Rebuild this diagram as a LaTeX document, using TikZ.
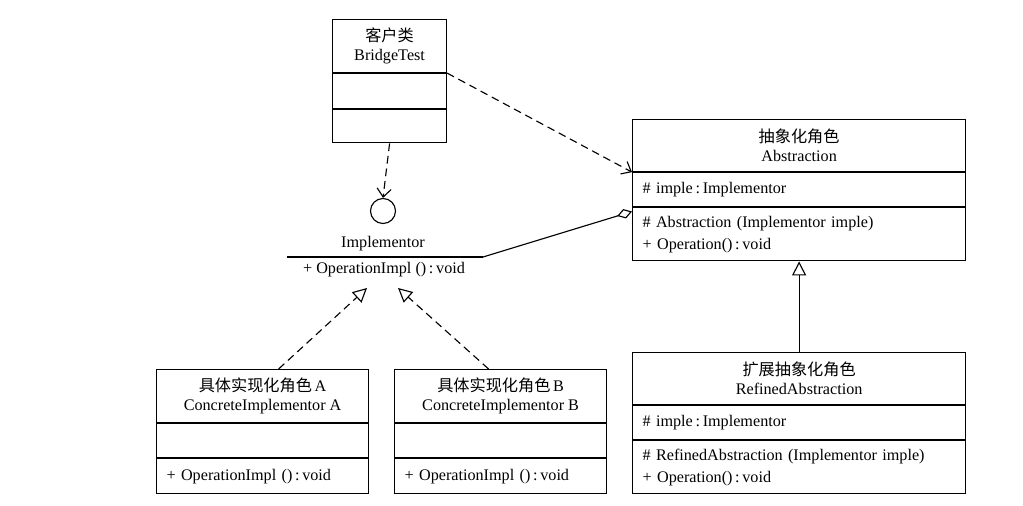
\documentclass[tikz,border=0pt]{standalone}
\usepackage{fontspec}
\setmainfont{Liberation Serif}
\newfontfamily\cjk{Noto Sans CJK SC}
\usetikzlibrary{arrows.meta,positioning}
\tikzset{
  box/.style={draw, line width=0.8pt, inner sep=0pt, font=\fontsize{11.5}{13.5}\selectfont},
  head/.style={box, align=center},
  part/.style={box, align=left, inner xsep=0.25cm},
  dep/.style={line width=0.8pt, dash pattern=on 5.5pt off 3.5pt, -{Straight Barb[length=6pt,width=10pt]}},
  real/.style={line width=0.8pt, dash pattern=on 5.5pt off 3.5pt, -{Triangle[open,length=10pt,width=10pt]}},
  gen/.style={line width=0.8pt, -{Triangle[open,length=10pt,width=10pt]}},
  agg/.style={line width=0.8pt, {Diamond[open,length=11pt,width=7pt]}-}
}
\begin{document}
\begin{tikzpicture}[x=0.025cm,y=-0.025cm]
  \useasboundingbox (0,0) rectangle (1023,505);
  \node[head, anchor=north west, minimum width=2.85cm, minimum height=1.325cm] (btHead) at (332,19) {{\cjk 客户类}\\BridgeTest};
  \node[part, text width=2.35cm, minimum height=0.875cm, below=0pt of btHead] (btAttr) {};
  \node[part, text width=2.35cm, minimum height=0.825cm, below=0pt of btAttr] (btMeth) {};

  \node[box, draw, circle, minimum size=0.625cm] (iface) at (383,211) {};
  \node[box, draw=none] (ifName) at (383,244) {Implementor};
  \coordinate (ifL) at (287,257);
  \coordinate (ifR) at (483,257);
  \draw[line width=0.8pt] (ifL) -- (ifR);
  \node[box, draw=none] (ifMeth) at (384,270) {+ OperationImpl ()\,:\,void};
  \coordinate (tipA) at (367,288);
  \coordinate (tipB) at (398,288);

  \node[head, anchor=north west, minimum width=8.325cm, minimum height=1.3cm] (abHead) at (632,119) {{\cjk 抽象化角色}\\Abstraction};
  \node[part, text width=7.825cm, minimum height=0.85cm, below=0pt of abHead] (abAttr) {\# imple\,:\,Implementor};
  \node[part, text width=7.825cm, minimum height=1.325cm, below=0pt of abAttr] (abMeth) {\# Abstraction (Implementor imple)\\[2pt]+ Operation()\,:\,void};

  \node[head, anchor=north west, minimum width=8.325cm, minimum height=1.3cm] (raHead) at (632,352) {{\cjk 扩展抽象化角色}\\RefinedAbstraction};
  \node[part, text width=7.825cm, minimum height=0.85cm, below=0pt of raHead] (raAttr) {\# imple\,:\,Implementor};
  \node[part, text width=7.825cm, minimum height=1.325cm, below=0pt of raAttr] (raMeth) {\# RefinedAbstraction (Implementor imple)\\[2pt]+ Operation()\,:\,void};

  \node[head, anchor=north west, minimum width=5.3cm, minimum height=1.325cm] (caHead) at (156,369) {{\cjk 具体实现化角色}\,A\\ConcreteImplementor A};
  \node[part, text width=4.8cm, minimum height=0.85cm, below=0pt of caHead] (caAttr) {};
  \node[part, text width=4.8cm, minimum height=0.875cm, below=0pt of caAttr] (caMeth) {+ OperationImpl ()\,:\,void};

  \node[head, anchor=north west, minimum width=5.3cm, minimum height=1.325cm] (cbHead) at (394,369) {{\cjk 具体实现化角色}\,B\\ConcreteImplementor B};
  \node[part, text width=4.8cm, minimum height=0.85cm, below=0pt of cbHead] (cbAttr) {};
  \node[part, text width=4.8cm, minimum height=0.875cm, below=0pt of cbAttr] (cbMeth) {+ OperationImpl ()\,:\,void};

  \draw[dep] (btMeth.south) -- (iface.north);
  \draw[dep] (btHead.south east) -- (abHead.south west);
  \draw[agg] ([yshift=-3pt]abAttr.south west) -- (ifR);
  \draw[gen] (raHead.north) -- (abMeth.south);
  \draw[real] ([xshift=0.4cm]caHead.north) -- (tipA);
  \draw[real] ([xshift=-0.3cm]cbHead.north) -- (tipB);
\end{tikzpicture}
\end{document}
